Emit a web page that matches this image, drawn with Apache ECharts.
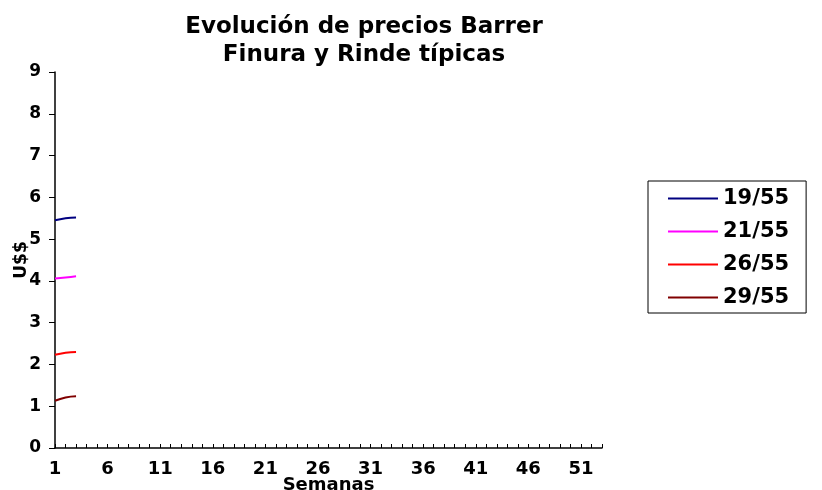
<!DOCTYPE html>
<html>
<head>
<meta charset="utf-8">
<script src="https://cdn.jsdelivr.net/npm/echarts@6/dist/echarts.min.js"></script>
<style>html,body{margin:0;padding:0;background:#fff}#c{width:822px;height:490px}</style>
</head>
<body>
<div id="c"></div>
<script>
const weeks = Array.from({length: 53}, (_, i) => String(i + 1));
const s1955 = [5.45, 5.50, 5.52];
const s2155 = [4.06, 4.08, 4.11];
const s2655 = [2.23, 2.28, 2.30];
const s2955 = [1.13, 1.21, 1.24];
const names = ['19/55', '21/55', '26/55', '29/55'];
const colors = ['#000080', '#FF00FF', '#FF0000', '#800000'];
const data = [s1955, s2155, s2655, s2955];

const font = 'DejaVu Sans';
const chart = echarts.init(document.getElementById('c'));
chart.setOption({
  animation: false,
  backgroundColor: '#fff',
  title: {
    text: 'Evolución de precios Barrer\nFinura y Rinde típicas',
    left: 359, top: 8, textAlign: 'center',
    textStyle: {fontFamily: font, fontWeight: 'bold', fontSize: 23, lineHeight: 28, color: '#000'}
  },
  legend: {
    orient: 'vertical', left: 648, top: 181,
    padding: [7, 17, 5, 20],
    borderColor: '#000', borderWidth: 1,
    itemWidth: 50, itemHeight: 14, itemGap: 12,
    icon: 'path://M0,6 L50,6 L50,8 L0,8 Z',
    textStyle: {fontFamily: font, fontWeight: 'bold', fontSize: 21, lineHeight: 20, color: '#000'},
    data: names
  },
  grid: {left: 55, right: 220, top: 72, bottom: 42, containLabel: false, outerBoundsMode: 'none'},
  xAxis: {
    type: 'category', data: weeks, boundaryGap: false,
    name: 'Semanas', nameLocation: 'middle', nameGap: 28, nameMoveOverlap: false,
    nameTextStyle: {fontFamily: font, fontWeight: 'bold', fontSize: 18, color: '#000'},
    axisLine: {lineStyle: {color: '#000', width: 1.5}},
    axisTick: {show: true, inside: true, length: 4, interval: 0, lineStyle: {color: '#000'}},
    axisLabel: {interval: 4, fontFamily: font, fontWeight: 'bold', fontSize: 18, color: '#000', margin: 12},
    splitLine: {show: false}
  },
  yAxis: {
    type: 'value', min: 0, max: 9, interval: 1,
    name: 'U$$', nameLocation: 'middle', nameGap: 25, nameRotate: 90, nameMoveOverlap: false,
    nameTextStyle: {fontFamily: font, fontWeight: 'bold', fontSize: 17, color: '#000'},
    axisLine: {show: true, lineStyle: {color: '#000', width: 1.5}},
    axisTick: {show: true, length: 6, lineStyle: {color: '#000'}},
    axisLabel: {fontFamily: font, fontWeight: 'bold', fontSize: 17, color: '#000', margin: 14},
    splitLine: {show: false}
  },
  series: names.map((n, i) => ({
    name: n, type: 'line', data: data[i], smooth: true,
    showSymbol: false, symbol: 'none',
    lineStyle: {color: colors[i], width: 2},
    itemStyle: {color: colors[i]}
  }))
});
</script>
</body>
</html>
